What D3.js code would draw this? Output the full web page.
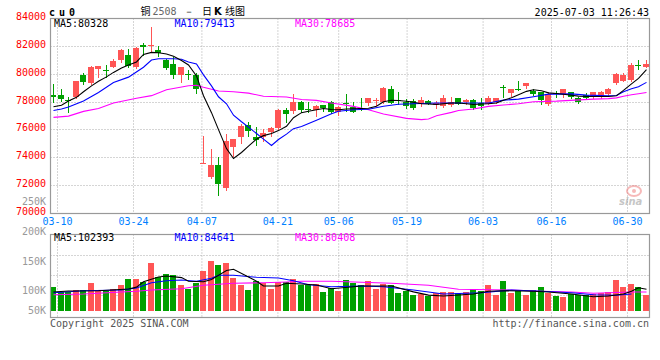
<!DOCTYPE html>
<html><head><meta charset="utf-8">
<script src="https://cdn.jsdelivr.net/npm/d3@7"></script>
<style>
body{margin:0;background:#fff}
svg{display:block}
text{font-family:"DejaVu Sans Mono",monospace;font-size:10px}
</style></head>
<body><svg id="chart" width="660" height="360"></svg>
<script>
// ---------------- data ----------------
const dates = ["03-07","03-10","03-11","03-12","03-13","03-14","03-17","03-18","03-19","03-20","03-21","03-24","03-25","03-26","03-27","03-28","03-31",
"04-01","04-02","04-03","04-07","04-08","04-09","04-10","04-11","04-14","04-15","04-16","04-17","04-18","04-21","04-22","04-23","04-24","04-25","04-28","04-29","04-30",
"05-06","05-07","05-08","05-09","05-12","05-13","05-14","05-15","05-16","05-19","05-20","05-21","05-22","05-23","05-26","05-27","05-28","05-29","05-30",
"06-03","06-04","06-05","06-06","06-09","06-10","06-11","06-12","06-13","06-16","06-17","06-18","06-19","06-20","06-23","06-24","06-25","06-26","06-27","06-30",
"07-01","07-02","07-03"];
const tickDates = ["03-10","03-24","04-07","04-21","05-06","05-19","06-03","06-16","06-30"];
const priceTicks = [70000,72000,74000,76000,78000,80000,82000,84000];
const volTicks = [50000,100000,150000,200000,250000];
const openP  = [78540,78500,78170,78380,79970,79400,80340,80310,80540,81000,81380,80540,82110,82060,81740,81020,80740,79910,80000,79950,
73630,72590,73450,71830,74770,75490,76360,75520,75490,75830,76110,77450,77360,78020,77520,77450,77790,78020,77260,77900,
77640,77560,77930,78140,77970,78930,78180,78040,78070,77880,78070,77790,77690,77790,78260,77970,78160,77930,77880,77970,
79050,78640,78950,79160,78830,78690,77880,78660,78590,78690,78260,78540,78360,78400,78590,79360,79540,79590,80640,80540];
const highP  = [79310,78930,78360,79540,80070,80570,80600,80660,81070,81810,81830,81950,82210,83400,82020,81070,81210,80520,80290,80090,
75540,74660,74070,75740,75350,76450,76540,76200,76090,76240,77500,77540,78590,78110,77970,77790,77800,78070,77690,78590,
78020,78260,78310,78260,79110,79160,78690,78210,78210,78400,78120,78110,78540,78400,78310,78210,78210,78310,78450,78310,
79260,78960,79500,79380,78970,78690,78690,78830,78930,78740,78400,78640,78740,78790,79020,80110,80070,80830,81020,81020];
const lowP   = [77970,78110,77260,78270,79310,79310,79810,79830,80500,80880,80500,80450,81380,81590,81310,80400,79740,79450,79640,78660,
73590,72570,71310,71710,74110,75070,75540,74910,75240,75540,76070,76540,77210,77310,77310,77020,77360,77210,77070,77360,
77260,77400,77790,77790,77930,77930,77830,77570,77500,77690,77830,77590,77640,77690,77830,77830,77500,77500,77830,77930,
78400,78450,78880,79020,78500,77830,77790,78400,78400,78310,77930,78210,78310,78310,78540,79310,79500,79540,80360,80540];
const closeP = [78360,78240,78100,79520,79450,80520,80590,80260,80930,81740,80590,81880,81950,82080,81540,80450,79970,80500,79965,78930,
73660,73450,72090,75240,75340,76310,75930,75260,75790,76160,77400,77110,77970,77400,77480,77690,77590,77260,77640,77860,
77310,77520,78310,78170,79020,77950,78140,77700,77540,78160,77880,77930,78310,78020,77880,78160,77590,77690,78260,78260,
79020,78950,78910,79380,78590,78160,78590,78620,78930,78360,78020,78310,78690,78740,78970,80020,79970,80690,80610,80740];
const volume = [106700,97800,97800,101200,101200,113500,101200,100000,103400,110100,120200,120200,114700,147200,122600,128100,126900,110100,103400,112500,
133700,150500,143800,147200,121400,110100,101200,116800,112500,103400,114700,114700,120200,110100,110100,111300,97800,104000,100000,118000,
113500,109100,115800,103400,111300,109100,96600,100000,92300,94400,91100,95600,97800,97800,95600,97800,102400,100000,109100,92300,
115800,96600,100000,92300,101200,105700,96600,91100,88900,94400,92300,92300,94400,96600,97800,118000,106700,111300,105700,92300];
// moving averages: [day index, value]
const ma5 = [[0,77660],[1,77770],[2,78070],[3,78340],[4,78740],[5,79160],[6,79490],[7,79810],[8,80130],[9,80450],[10,80660],[11,80880],[12,81420],[13,81570],[14,81540],[15,81450],[16,81290],[17,80990],[18,80660],[19,79880],
[20,78450],[21,77240],[22,76020],[23,74660],[24,73950],[25,74380],[26,74840],[27,75340],[28,75590],[29,75740],[30,75950],[31,76260],[32,76880],[33,77240],[34,77340],[35,77450],[36,77540],[37,77470],[38,77450],[39,77500],
[40,77520],[41,77540],[42,77560],[43,77700],[44,78020],[45,78130],[46,78110],[47,78060],[48,77990],[49,77880],[50,77860],[51,77830],[52,77880],[53,77930],[54,77930],[55,77880],[56,77830],[57,77860],[58,77880],[59,77930],
[60,78130],[61,78310],[62,78520],[63,78770],[64,78880],[65,78810],[66,78660],[67,78610],[68,78560],[69,78490],[70,78430],[71,78400],[72,78400],[73,78400],[74,78400],[75,78450],[76,78840],[77,79310],[78,79700],[79,80328]];
const ma10 = [[0,77400],[1,77500],[2,77640],[4,78070],[6,78690],[8,79400],[10,79790],[12,80500],[13,81020],[14,81110],[16,81110],[17,81070],[18,80880],[19,80740],[20,79950],[21,79160],[22,78380],[23,77880],[24,77060],[25,76590],
[26,76200],[27,75740],[28,75340],[29,74880],[30,75310],[31,75700],[32,76090],[33,76240],[35,76700],[37,77160],[38,77340],[40,77450],[42,77490],[44,77700],[46,77840],[48,77880],[51,77930],[55,77930],[58,77930],[60,78140],
[62,78210],[64,78380],[66,78570],[69,78590],[71,78500],[74,78450],[75,78470],[76,78740],[77,78950],[78,79100],[79,79413]];
const ma30 = [[0,76900],[2,76990],[4,77330],[6,77540],[8,77930],[11,78270],[13,78460],[15,78880],[18,79170],[19,79210],[20,79060],[22,78800],[24,78740],[26,78640],[28,78420],[31,78360],[33,78180],[35,78120],[37,77930],[40,77690],
[42,77450],[44,77140],[47,76830],[49,76740],[50,76790],[51,77020],[53,77260],[54,77400],[56,77500],[58,77690],[60,77790],[62,77880],[64,78020],[67,78070],[72,78210],[74,78250],[75,78300],[76,78420],[77,78520],[78,78600],[79,78685]];
const vma5 = [[0,97800],[2,99500],[6,100000],[10,102800],[11,106000],[12,115000],[14,123000],[15,124800],[17,122000],[18,116000],[20,115000],[21,119000],[23,134000],[24,136000],[26,123000],[27,116000],[28,108000],[30,107900],[31,112500],[33,111300],
[35,109500],[37,103400],[41,107900],[45,107900],[48,98000],[50,92500],[52,91100],[56,94400],[58,99000],[60,100000],[64,99000],[66,97800],[69,94400],[72,89900],[74,91100],[76,94400],[77,99000],[78,105000],[79,102400]];
const vma10 = [[0,96600],[4,100000],[9,101200],[11,104500],[13,113500],[15,116800],[17,118000],[19,116000],[21,121000],[22,125900],[24,125900],[27,122600],[30,121400],[32,116800],[34,110100],[37,106700],[41,107900],[44,106700],[48,101200],[52,94400],
[57,96600],[61,101200],[65,99000],[69,96600],[72,93300],[75,92300],[77,94400]];
const vma30 = [[0,93300],[4,94400],[9,97800],[11,99000],[13,101200],[17,103400],[20,109100],[24,112500],[28,113500],[31,114700],[33,115800],[37,115800],[43,113500],[45,112500],[50,109100],[54,102400],[61,101200],[65,99000],[69,97800],[72,95600],[77,97800],[79,97800]];
const legendPrice = [["MA5:80328","#000"],["MA10:79413","#0000ff"],["MA30:78685","#ff00ff"]];
const legendVol = [["MA5:102393","#000"],["MA10:84641","#0000ff"],["MA30:80408","#ff00ff"]];

// ---------------- drawing ----------------
const svg = d3.select("#chart");
const L = 50.5, R = 649.5, PT = 18.5, PB = 213.5, VT = 234.5, VB = 317.5;
const RED = "#ff5555", GREEN = "#00a000", GRID = "#aaaaaa", BORDER = "#999999";

const x = d3.scaleBand().domain(d3.range(dates.length)).range([49.25, 649.25]).paddingInner(0.2).paddingOuter(0.1);
const bx = i => Math.round(x(i));
const cx = i => bx(i) + 3.5;
const xGrid = d3.scaleLinear().domain([dates.indexOf("03-10"), dates.indexOf("06-30")]).range([57.5, 627.5]);
const y = d3.scaleLinear().domain([70000, 84000]).range([PB, PT]);
const yv = d3.scaleLinear().domain([100000, 200000]).range([290.7, 231.3]);
const volBase = 311;
const snap = v => Math.round(v - 0.5) + 0.5;

// price grid
const gP = svg.append("g");
gP.selectAll("line.h").data(priceTicks.slice(1, -1)).join("line")
  .attr("x1", L).attr("x2", R).attr("y1", d => snap(y(d))).attr("y2", d => snap(y(d)))
  .attr("stroke", GRID).attr("stroke-dasharray", "1,2");
gP.selectAll("line.v").data(tickDates).join("line")
  .attr("x1", d => xGrid(dates.indexOf(d))).attr("x2", d => xGrid(dates.indexOf(d)))
  .attr("y1", PT).attr("y2", PB).attr("stroke", GRID).attr("stroke-dasharray", "1,2");
// volume grid
[255.5, 275.5, 295.5].forEach(gy => svg.append("line").attr("x1", L).attr("x2", R).attr("y1", gy).attr("y2", gy)
  .attr("stroke", GRID).attr("stroke-dasharray", "1,2"));
svg.append("g").selectAll("line").data(tickDates).join("line")
  .attr("x1", d => xGrid(dates.indexOf(d))).attr("x2", d => xGrid(dates.indexOf(d)))
  .attr("y1", VT).attr("y2", VB).attr("stroke", GRID).attr("stroke-dasharray", "1,2");

// watermark
const wm = svg.append("g").attr("opacity", 0.55);
wm.append("ellipse").attr("cx", 634).attr("cy", 191).attr("rx", 7).attr("ry", 5).attr("fill", "none").attr("stroke", "#f08080").attr("stroke-width", 2);
wm.append("circle").attr("cx", 634).attr("cy", 191).attr("r", 2).attr("fill", "#f08080");
wm.append("text").attr("x", 619).attr("y", 205).attr("font-size", 14).attr("font-weight", "bold").attr("font-style", "italic")
  .attr("fill", "#999").style("font-family", "DejaVu Sans, sans-serif").text("sina");

// candles
const idx = d3.range(dates.length);
const up = i => closeP[i] >= openP[i];
const cg = svg.append("g");
cg.selectAll("line").data(idx).join("line")
  .attr("x1", cx).attr("x2", cx)
  .attr("y1", i => Math.round(y(highP[i]))).attr("y2", i => Math.round(y(lowP[i])) + 1)
  .attr("stroke", i => up(i) ? RED : GREEN);
cg.selectAll("rect").data(idx).join("rect")
  .attr("x", bx).attr("width", 6)
  .attr("y", i => Math.round(y(Math.max(openP[i], closeP[i]))))
  .attr("height", i => Math.max(1, Math.round(y(Math.min(openP[i], closeP[i]))) - Math.round(y(Math.max(openP[i], closeP[i])))))
  .attr("fill", i => up(i) ? RED : GREEN);

// MA lines
const lineP = d3.line().x(d => cx(d[0])).y(d => y(d[1]));
[[ma30, "#ff00ff"], [ma10, "#0000ff"], [ma5, "#000"]].forEach(([d, c]) =>
  svg.append("path").attr("d", lineP(d)).attr("fill", "none").attr("stroke", c).attr("stroke-width", 1.1));

// volume bars
svg.append("g").selectAll("rect").data(idx).join("rect")
  .attr("x", bx).attr("width", 6)
  .attr("y", i => Math.round(yv(volume[i])))
  .attr("height", i => volBase - Math.round(yv(volume[i])))
  .attr("fill", i => up(i) ? RED : GREEN);
const lineV = d3.line().x(d => cx(d[0])).y(d => yv(d[1]));
[[vma30, "#ff00ff"], [vma10, "#0000ff"], [vma5, "#000"]].forEach(([d, c]) =>
  svg.append("path").attr("d", lineV(d)).attr("fill", "none").attr("stroke", c).attr("stroke-width", 1.1));

// borders
svg.append("rect").attr("x", L).attr("y", PT).attr("width", R - L).attr("height", PB - PT).attr("fill", "none").attr("stroke", BORDER).attr("stroke-width", 1.2);
svg.append("rect").attr("x", L).attr("y", VT).attr("width", R - L).attr("height", VB - VT).attr("fill", "none").attr("stroke", BORDER).attr("stroke-width", 1.2);

// price axis labels
svg.append("g").selectAll("text").data(priceTicks).join("text")
  .attr("x", 46).attr("y", d => y(d) + 1.5).attr("text-anchor", "end").attr("fill", "#ff0000").text(d => d);
// volume axis labels
svg.append("g").selectAll("text").data(volTicks).join("text")
  .attr("x", 46).attr("y", d => Math.min(yv(d), 310.3) + 3.5).attr("text-anchor", "end").attr("fill", "#999")
  .text(d => (d / 1000) + "K");
// date labels
svg.append("g").selectAll("text").data(tickDates).join("text")
  .attr("x", d => xGrid(dates.indexOf(d))).attr("y", 225).attr("text-anchor", "middle").attr("fill", "#0080ff").text(d => d);

// legends
[[legendPrice, 27], [legendVol, 241]].forEach(([lg, ly]) => {
  svg.append("g").selectAll("text").data(lg).join("text")
    .attr("x", (d, k) => 54 + k * 120.5).attr("y", ly).attr("fill", d => d[1]).text(d => d[0]);
});

// header
svg.append("text").attr("x", 49).attr("y", 16).attr("font-size", 13).attr("font-weight", "bold").attr("letter-spacing", 4).text("cu0");
const cjk = "'Noto Sans CJK SC', sans-serif";
svg.append("text").attr("x", 140.5).attr("y", 15).attr("font-size", 12).style("font-family", cjk).text("铜");
svg.append("text").attr("x", 152.5).attr("y", 15).attr("font-size", 10).attr("fill", "#666").text("2508");
svg.append("text").attr("x", 184).attr("y", 15).attr("font-size", 10).text("－");
svg.append("text").attr("x", 202).attr("y", 15).attr("font-size", 12).style("font-family", cjk).text("日");
svg.append("text").attr("x", 214).attr("y", 15).attr("font-size", 11).attr("font-weight", "bold").style("font-family", "DejaVu Sans, sans-serif").text("K");
svg.append("text").attr("x", 225).attr("y", 15).attr("font-size", 12).style("font-family", cjk).text("线图");
svg.append("text").attr("x", 649).attr("y", 16).attr("text-anchor", "end").text("2025-07-03 11:26:43");

// footer
svg.append("text").attr("x", 50).attr("y", 327).attr("fill", "#555").text("Copyright 2025 SINA.COM");
svg.append("text").attr("x", 649).attr("y", 327).attr("text-anchor", "end").attr("fill", "#555").text("http://finance.sina.com.cn");
</script></body></html>
